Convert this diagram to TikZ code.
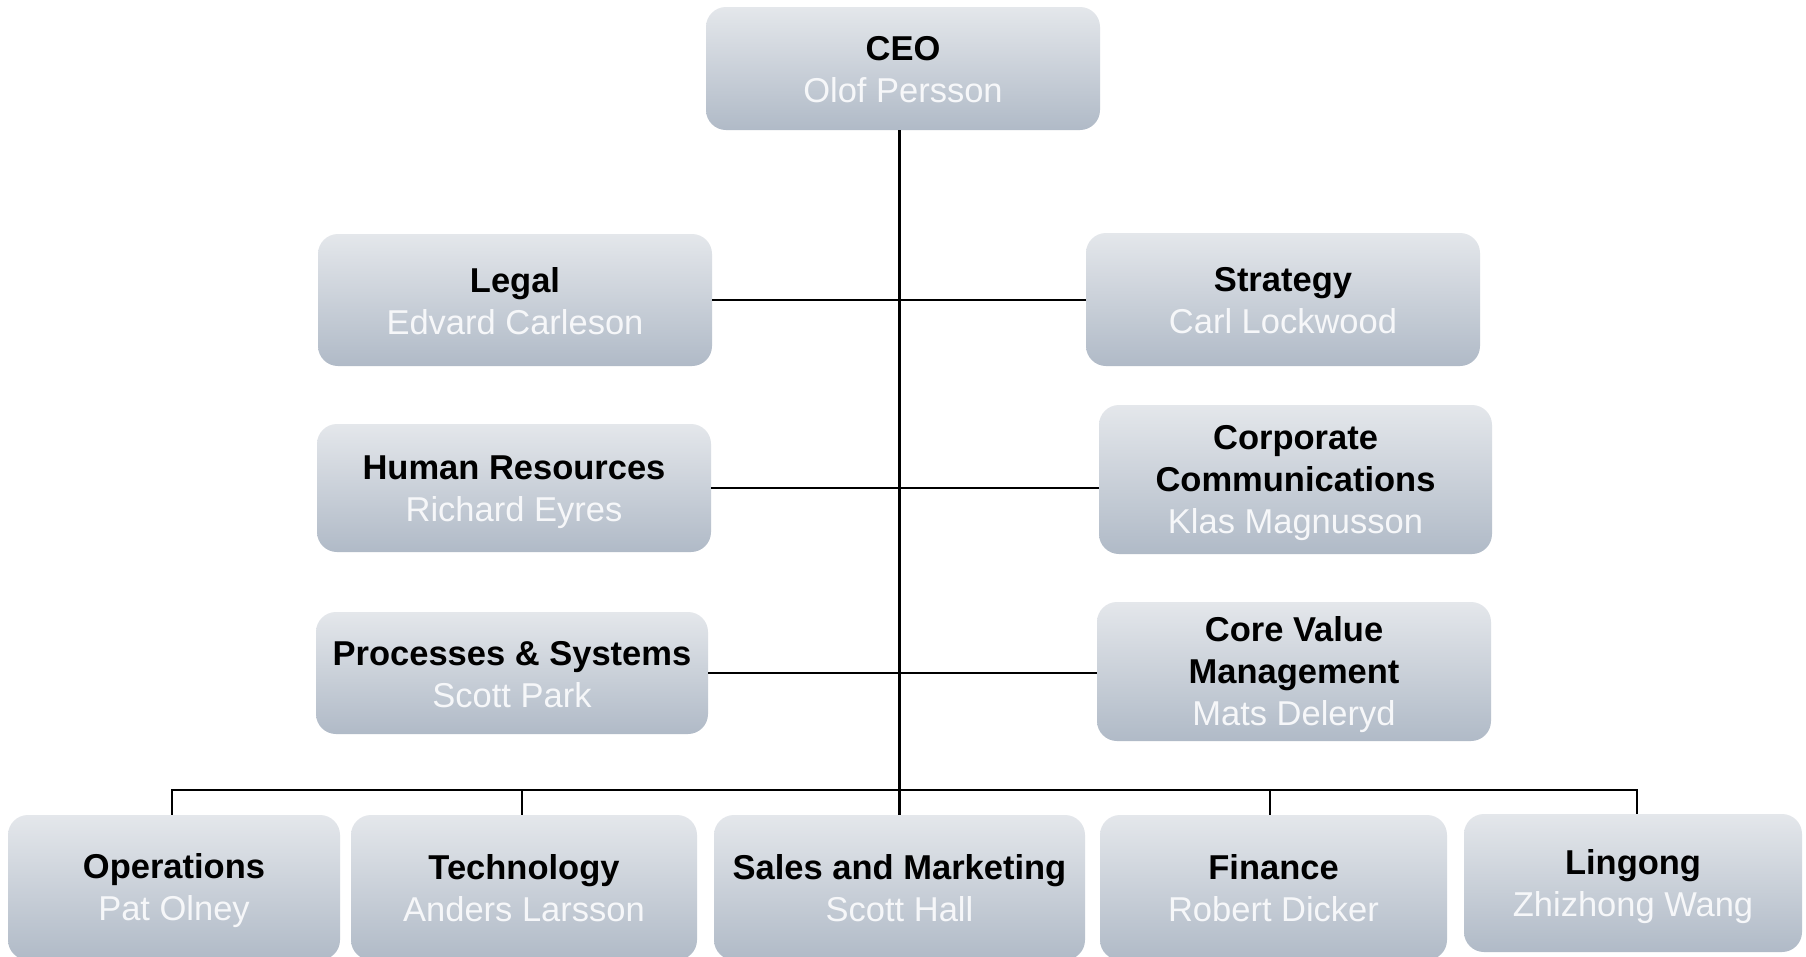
\documentclass[tikz,border=0pt]{standalone}
\usepackage{fontspec}
\setmainfont{Liberation Sans}
\definecolor{boxtop}{RGB}{228,231,235}
\definecolor{boxbot}{RGB}{176,186,199}
\definecolor{namecol}{RGB}{246,247,249}
\begin{document}
\begin{tikzpicture}[x=1pt,y=-1pt,
  orgbox/.style={rectangle, rounded corners=20pt, top color=boxtop, bottom color=boxbot,
    draw=none, inner sep=0pt, align=center, text=black,
    font=\fontsize{34.5}{42}\selectfont},
  conn/.style={draw=black, line width=2.6pt}]
\useasboundingbox (0,0) rectangle (1806,956);
\clip (0,0) rectangle (1806,956);
\fill[white] (0,0) rectangle (1806,956);
\newcommand{\lnstrut}{\rule[-6pt]{0pt}{38pt}}
\newcommand{\ttl}[1]{\lnstrut\textbf{#1}}
\newcommand{\nm}[1]{\lnstrut\textcolor{namecol}{#1}}
% top
\node[orgbox, minimum width=394pt, minimum height=123pt] (ceo) at (903,68.5) {\ttl{CEO}\\\nm{Olof Persson}};
% left column
\node[orgbox, minimum width=394pt, minimum height=132pt] (legal) at (515,300) {\ttl{Legal}\\\nm{Edvard Carleson}};
\node[orgbox, minimum width=394pt, minimum height=128pt] (hr) at (514,488) {\ttl{Human Resources}\\\nm{Richard Eyres}};
\node[orgbox, minimum width=392pt, minimum height=122pt] (proc) at (512,673) {\ttl{Processes \& Systems}\\\nm{Scott Park}};
% right column
\node[orgbox, minimum width=394pt, minimum height=133pt] (strat) at (1283,299.5) {\ttl{Strategy}\\\nm{Carl Lockwood}};
\node[orgbox, minimum width=393pt, minimum height=149pt] (corp) at (1295.5,479.5) {\ttl{Corporate}\\\ttl{Communications}\\\nm{Klas Magnusson}};
\node[orgbox, minimum width=394pt, minimum height=139pt] (core) at (1294,671.5) {\ttl{Core Value}\\\ttl{Management}\\\nm{Mats Deleryd}};
% bottom row
\node[orgbox, minimum width=332pt, minimum height=145pt] (ops) at (174,887.5) {\ttl{Operations}\\\nm{Pat Olney}};
\node[orgbox, minimum width=346pt, minimum height=145pt] (tech) at (524,887.5) {\ttl{Technology}\\\nm{Anders Larsson}};
\node[orgbox, minimum width=371pt, minimum height=145pt] (sales) at (899.5,887.5) {\ttl{Sales and Marketing}\\\nm{Scott Hall}};
\node[orgbox, minimum width=347pt, minimum height=145pt] (fin) at (1273.5,887.5) {\ttl{Finance}\\\nm{Robert Dicker}};
\node[orgbox, minimum width=338pt, minimum height=138pt] (ling) at (1633,883) {\ttl{Lingong}\\\nm{Zhizhong Wang}};
% connectors
\draw[conn] (ceo.south -| sales.north) -- (sales.north);
\draw[conn] (legal.east) -- (legal.east -| sales.north) -- (strat.west |- legal.east);
\draw[conn] (hr.east) -- (hr.east -| sales.north) -- (corp.west |- hr.east);
\draw[conn] (proc.east) -- (proc.east -| sales.north) -- (core.west |- proc.east);
\draw[conn] ([xshift=-2pt]ops.north) -- ++(0,-25) coordinate (busl) -| ([xshift=4pt]ling.north);
\draw[conn] ([xshift=-2pt]tech.north) -- ([xshift=-2pt]tech.north |- busl);
\draw[conn] ([xshift=-3.5pt]fin.north) -- ([xshift=-3.5pt]fin.north |- busl);
\end{tikzpicture}
\end{document}
